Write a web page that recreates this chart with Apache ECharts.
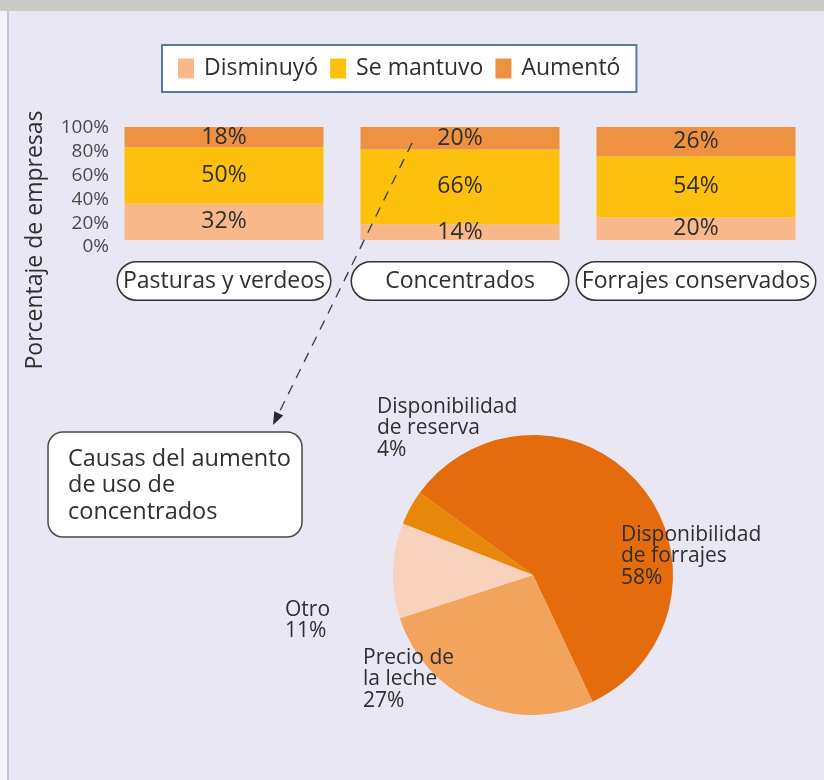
<!DOCTYPE html>
<html>
<head>
<meta charset="utf-8">
<script src="https://cdn.jsdelivr.net/npm/echarts@6/dist/echarts.min.js"></script>
<style>
  html, body { margin: 0; padding: 0; background: #E9E7F4; }
  #chart { width: 824px; height: 780px; }
</style>
</head>
<body>
<div id="chart"></div>
<script>
// ---- data ----
const categories = ['Pasturas y verdeos', 'Concentrados', 'Forrajes conservados'];
const seriesNames = ['Disminuyó', 'Se mantuvo', 'Aumentó'];
const disminuyo = [32, 14, 20];
const seMantuvo = [50, 66, 54];
const aumento = [18, 20, 26];
const yAxisTitle = 'Porcentaje de empresas';

const pieNames = ['Disponibilidad\nde forrajes', 'Precio de\nla leche', 'Otro', 'Disponibilidad\nde reserva'];
const pieValues = [58, 27, 11, 4];
const calloutText = 'Causas del aumento\nde uso de\nconcentrados';

// ---- styles ----
const FONT = '"Open Sans", "Noto Sans", sans-serif';
const TXT = '#2f2f2f';
const barColors = ['#F9B88B', '#FCC00D', '#EE9242'];
const pieColors = ['#E46C0C', '#F2A35C', '#F9D2BE', '#E8870A'];
const catKeys = ['c0', 'c1', 'c2'];
const catBoxW = [206, 210, 232];
const pieLabelPos = [[621, 524], [363, 647], [285, 599], [377, 396]];

const chart = echarts.init(document.getElementById('chart'), null, { renderer: 'canvas' });

const rich = {};
catKeys.forEach((k, i) => {
  rich[k] = {
    fontFamily: FONT, fontSize: 23, lineHeight: 26, color: TXT,
    backgroundColor: '#fff', borderColor: '#333', borderWidth: 1.5,
    borderRadius: 19, padding: [7, 3, 7, 3], width: catBoxW[i], align: 'center'
  };
});

function barSeries(name, data, color) {
  return {
    name: name, type: 'bar', stack: 'total', data: data, barWidth: 199,
    xAxisIndex: 0, yAxisIndex: 0,
    itemStyle: { color: color },
    label: { show: true, position: 'inside', formatter: '{c}%',
      fontFamily: FONT, fontSize: 23, color: TXT },
    emphasis: { disabled: true }
  };
}

// arrow geometry
const ax0 = 412, ay0 = 143, ax1 = 273, ay1 = 425;
const dl = Math.hypot(ax1 - ax0, ay1 - ay0);
const ux = (ax1 - ax0) / dl, uy = (ay1 - ay0) / dl;
const hl = 13, hw = 5;
const bx = ax1 - ux * hl, by = ay1 - uy * hl;

const option = {
  backgroundColor: '#E9E7F4',
  animation: false,
  textStyle: { fontFamily: FONT },
  legend: {
    data: seriesNames,
    left: 162, top: 45,
    orient: 'horizontal',
    backgroundColor: '#fff', borderColor: '#5A78A8', borderWidth: 2,
    padding: [11, 16, 11, 16],
    itemWidth: 16, itemHeight: 20, itemGap: 12,
    icon: 'rect',
    textStyle: { fontFamily: FONT, fontSize: 23, lineHeight: 25, color: TXT, padding: [0, 0, 0, 5] }
  },
  grid: [
    { left: 106, right: 10, top: 127, height: 113 },
    { left: 106, right: 10, top: 128, height: 119 }
  ],
  xAxis: [
    {
      type: 'category', data: categories, gridIndex: 0,
      axisLine: { show: false }, axisTick: { show: false },
      axisLabel: {
        interval: 0, margin: 28,
        formatter: (v, i) => '{' + catKeys[i] + '|' + v + '}',
        rich: rich
      }
    },
    { type: 'value', gridIndex: 1, show: false, min: 0, max: 1 }
  ],
  yAxis: [
    {
      type: 'value', min: 0, max: 100, interval: 20, gridIndex: 0,
      axisLine: { show: false }, axisTick: { show: false },
      splitLine: { show: false }, axisLabel: { show: false }
    },
    {
      type: 'value', min: 0, max: 100, interval: 20, gridIndex: 1,
      axisLine: { show: false }, axisTick: { show: false },
      splitLine: { show: false },
      axisLabel: { formatter: '{value}%', fontFamily: FONT, fontSize: 19, color: '#4a4a4a', margin: -3 }
    }
  ],
  series: [
    barSeries(seriesNames[0], disminuyo, barColors[0]),
    barSeries(seriesNames[1], seMantuvo, barColors[1]),
    barSeries(seriesNames[2], aumento, barColors[2]),
    {
      type: 'pie',
      center: [533, 575], radius: 140,
      startAngle: 144, clockwise: true,
      avoidLabelOverlap: false,
      data: pieNames.map((n, i) => ({ name: n, value: pieValues[i], itemStyle: { color: pieColors[i] } })),
      label: {
        show: true, position: 'outside',
        formatter: p => p.name + '\n' + p.value + '%',
        fontFamily: FONT, fontSize: 21, lineHeight: 21.5, color: TXT, align: 'left'
      },
      labelLine: { show: false },
      labelLayout: p => ({ x: pieLabelPos[p.dataIndex][0], y: pieLabelPos[p.dataIndex][1], align: 'left', verticalAlign: 'top' }),
      emphasis: { disabled: true }
    }
  ],
  graphic: [
    { type: 'rect', shape: { x: 0, y: 0, width: 824, height: 11 }, style: { fill: '#CACAC6' }, z: 100 },
    { type: 'rect', shape: { x: 0, y: 11, width: 7, height: 769 }, style: { fill: '#F3F2F8' }, z: 100 },
    { type: 'rect', shape: { x: 7, y: 11, width: 2, height: 769 }, style: { fill: '#C4C2D6' }, z: 100 },
    {
      type: 'text', x: 35, y: 240, rotation: Math.PI / 2,
      style: { text: yAxisTitle, fontFamily: FONT, fontSize: 23, fill: TXT, align: 'center', verticalAlign: 'middle' }
    },
    {
      type: 'line', shape: { x1: ax0, y1: ay0, x2: bx, y2: by },
      style: { stroke: '#3a3a3a', lineWidth: 1.3, lineDash: [10, 8] }, z: 50
    },
    {
      type: 'polygon',
      shape: { points: [[ax1, ay1], [bx - uy * hw, by + ux * hw], [bx + uy * hw, by - ux * hw]] },
      style: { fill: '#2a2a2a' }, z: 50
    },
    {
      type: 'rect', shape: { x: 48, y: 432, width: 254, height: 105, r: 15 },
      style: { fill: '#fff', stroke: '#4a4a4a', lineWidth: 1.5 }
    },
    {
      type: 'text', x: 68, y: 446,
      style: { text: calloutText, fontFamily: FONT, fontSize: 23.5, lineHeight: 26.5, fill: TXT, align: 'left', verticalAlign: 'top' }
    }
  ]
};
chart.setOption(option);
</script>
</body>
</html>
